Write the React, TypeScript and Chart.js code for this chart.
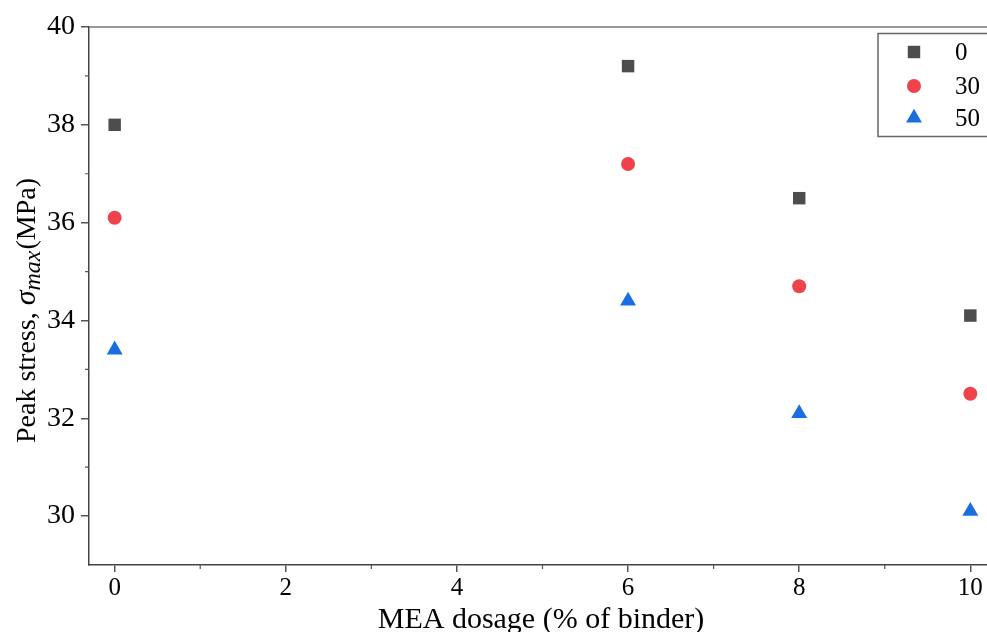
import React, { useEffect, useRef } from "react";
import { Chart, registerables } from "chart.js";

Chart.register(...registerables);

const seriesNames = ["0", "30", "50"];
const dosages = [0, 6, 8, 10];
const stress0 = [38.0, 39.2, 36.5, 34.1];
const stress30 = [36.1, 37.2, 34.7, 32.5];
const stress50 = [33.4, 34.4, 32.1, 30.1];
const xTicks = [0, 2, 4, 6, 8, 10];
const xMinorTicks = [1, 3, 5, 7, 9];
const yTicks = [30, 32, 34, 36, 38, 40];
const yMinorTicks = [31, 33, 35, 37, 39];

const colors = ["#4d4d4d", "#f0424a", "#1a6fe0"];
const styles = ["rect", "circle", "triangle"];
const radii = [8.8, 7, 9.2];
const SERIF = "'Liberation Serif', 'Times New Roman', serif";

function drawMarker(ctx: CanvasRenderingContext2D, style: string, x: number, y: number, r: number, color: string) {
  ctx.save();
  ctx.fillStyle = color;
  ctx.beginPath();
  if (style === "rect") {
    const s = Math.SQRT1_2 * r;
    ctx.rect(x - s, y - s, 2 * s, 2 * s);
  } else if (style === "circle") {
    ctx.arc(x, y, r, 0, Math.PI * 2);
  } else {
    ctx.moveTo(x, y - r);
    ctx.lineTo(x + r * Math.cos(Math.PI / 6), y + r * 0.5);
    ctx.lineTo(x - r * Math.cos(Math.PI / 6), y + r * 0.5);
    ctx.closePath();
  }
  ctx.fill();
  ctx.restore();
}

const decorPlugin = {
  id: "decor",
  afterDraw(chart: any) {
    const ctx: CanvasRenderingContext2D = chart.ctx;
    const { left, right, top, bottom } = chart.chartArea;
    const xs = chart.scales.x;
    const ys = chart.scales.y;
    ctx.save();
    // top border
    ctx.strokeStyle = "#777";
    ctx.lineWidth = 1.5;
    ctx.beginPath();
    ctx.moveTo(left, top);
    ctx.lineTo(right + 20, top);
    ctx.stroke();
    // minor ticks
    ctx.strokeStyle = "#555";
    ctx.lineWidth = 1.2;
    ctx.beginPath();
    yMinorTicks.forEach((v) => {
      const py = ys.getPixelForValue(v);
      ctx.moveTo(left - 4, py);
      ctx.lineTo(left, py);
    });
    xMinorTicks.forEach((v) => {
      const px = xs.getPixelForValue(v);
      ctx.moveTo(px, bottom);
      ctx.lineTo(px, bottom + 4);
    });
    ctx.stroke();

    // x title
    ctx.fillStyle = "#000";
    ctx.font = `30px ${SERIF}`;
    ctx.textAlign = "center";
    ctx.textBaseline = "alphabetic";
    ctx.fillText("MEA dosage (% of binder)", 541, 628);

    // y title (rotated, mixed fonts)
    ctx.save();
    ctx.translate(35, 443);
    ctx.rotate(-Math.PI / 2);
    ctx.textAlign = "left";
    let cx = 0;
    const parts: [string, string, number][] = [
      ["Peak stress, ", `28px ${SERIF}`, 0],
      ["σ", `italic 30px ${SERIF}`, 0],
      ["max", `italic 24px ${SERIF}`, 5],
      ["(MPa)", `28px ${SERIF}`, 0],
    ];
    parts.forEach(([t, f, dy]) => {
      ctx.font = f;
      ctx.fillText(t, cx, dy);
      cx += ctx.measureText(t).width + (t === "max" ? 1 : 0);
    });
    ctx.restore();

    // legend
    ctx.strokeStyle = "#666";
    ctx.lineWidth = 1.5;
    ctx.strokeRect(878, 33.5, 160, 103);
    const rowsY = [52, 86, 118];
    ctx.font = `25px ${SERIF}`;
    ctx.textAlign = "left";
    ctx.textBaseline = "middle";
    seriesNames.forEach((n, i) => {
      drawMarker(ctx, styles[i], 914, rowsY[i], radii[i], colors[i]);
      ctx.fillStyle = "#000";
      ctx.fillText(n, 955, rowsY[i] + 1);
    });
    ctx.restore();
  },
};

export default function App() {
  const ref = useRef<HTMLCanvasElement>(null);
  useEffect(() => {
    if (!ref.current) return;
    const allSeries = [stress0, stress30, stress50];
    const chart = new Chart(ref.current, {
      type: "scatter",
      data: {
        datasets: allSeries.map((vals, i) => ({
          label: seriesNames[i],
          data: dosages.map((d, j) => ({ x: d, y: vals[j] })),
          pointStyle: styles[i] as any,
          pointRadius: radii[i],
          pointHoverRadius: radii[i],
          backgroundColor: colors[i],
          borderColor: colors[i],
          borderWidth: 0,
        })),
      },
      options: {
        animation: false,
        responsive: false,
        devicePixelRatio: 1,
        layout: { padding: { left: 0, top: 27, right: 14, bottom: 0 } },
        plugins: { legend: { display: false }, tooltip: { enabled: false } },
        scales: {
          x: {
            type: "linear",
            min: -0.3,
            max: 10.3,
            afterBuildTicks: (s: any) => {
              s.ticks = xTicks.map((v) => ({ value: v }));
            },
            afterFit: (s: any) => {
              s.height = 67;
            },
            ticks: {
              font: { family: SERIF, size: 25 },
              color: "#000",
              padding: 1,
              maxRotation: 0,
              autoSkip: false,
            },
            grid: { drawOnChartArea: false, drawTicks: true, tickLength: 7, color: "#555", lineWidth: 1.5 },
            border: { display: true, color: "#444", width: 1.5 },
          },
          y: {
            type: "linear",
            min: 29,
            max: 40,
            afterBuildTicks: (s: any) => {
              s.ticks = yTicks.map((v) => ({ value: v }));
            },
            afterFit: (s: any) => {
              s.width = 89;
            },
            ticks: {
              font: { family: SERIF, size: 28 },
              color: "#000",
              padding: 6,
              autoSkip: false,
            },
            grid: { drawOnChartArea: false, drawTicks: true, tickLength: 8, color: "#555", lineWidth: 1.5 },
            border: { display: true, color: "#444", width: 1.5 },
          },
        },
      },
      plugins: [decorPlugin],
    });
    return () => chart.destroy();
  }, []);
  return (
    <div style={{ position: "fixed", left: 0, top: 0, width: 987, height: 632, overflow: "hidden", background: "#fff" }}>
      <canvas ref={ref} width={1010} height={632} style={{ display: "block", width: 1010, height: 632 }} />
    </div>
  );
}
